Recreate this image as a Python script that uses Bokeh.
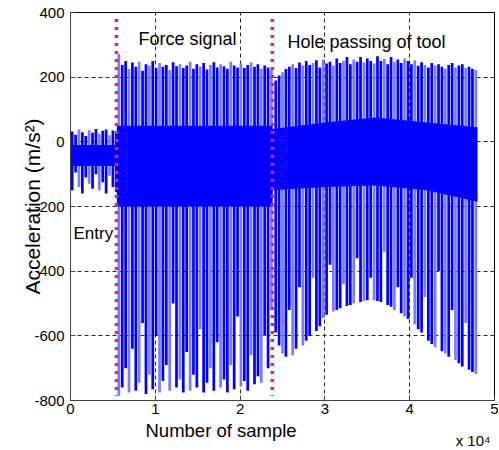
import numpy as np
from bokeh.plotting import figure
from bokeh.models import Label, FixedTicker, ColumnDataSource, Title
from bokeh.embed import file_html
from bokeh.resources import INLINE

# ---------------- data ----------------
x_ticks = [0, 10000, 20000, 30000, 40000, 50000]
x_tick_labels = ["0", "1", "2", "3", "4", "5"]
y_ticks = [-800, -600, -400, -200, 0, 200, 400]
y_tick_labels = ["-800", "-600", "-400", "-200", "0", "200", "400"]

# marker lines (sample index)
marker_x = [5420, 23800]

# spike positions (sample index) for the three phases
entry_x = list(range(200, 5401, 400))
force_x = list(range(5700, 23701, 400))
hole_x = list(range(24200, 47801, 400))

entry_hi = [32, 22, 38, 30, 18, 36, 28, 40, 25, 34, 38, 20, 35, 30]
entry_lo = [-150, -95, -140, -160, -110, -130, -145, -100, -150, -125, -160, -105, -140, -155]

force_hi = [272, 238, 250, 226, 245, 232, 248, 220, 240, 236, 250, 228, 244, 232, 238, 222,
            246, 234, 240, 228, 236, 248, 226, 240, 232, 244, 224, 238, 246, 230, 240, 234,
            226, 248, 236, 230, 242, 228, 238, 246, 232, 240, 226, 236, 230, 222]
force_lo = [-785, -760, -700, -775, -640, -770, -745, -560, -780, -720, -765, -600, -775, -740,
            -690, -770, -500, -760, -735, -775, -650, -770, -720, -760, -580, -775, -745, -700,
            -770, -620, -760, -735, -775, -690, -765, -540, -755, -740, -770, -660, -750, -725,
            -745, -600, -700, -520]

hole_hi = [190, 205, 215, 225, 232, 240, 228, 245, 236, 250, 238, 244, 252, 230, 255, 242,
           248, 236, 258, 244, 250, 262, 240, 255, 248, 262, 245, 258, 250, 242, 265, 250,
           256, 240, 262, 248, 255, 244, 258, 250, 240, 252, 235, 246, 238, 230, 244, 236,
           240, 232, 226, 238, 244, 230, 236, 240, 228, 232, 226, 222]
hole_lo = [-590, -630, -655, -665, -520, -660, -640, -450, -630, -615, -600, -420, -585, -570,
           -545, -535, -380, -525, -520, -515, -440, -508, -505, -500, -360, -495, -492, -490,
           -420, -490, -492, -495, -340, -505, -510, -520, -450, -530, -540, -548, -420, -565,
           -580, -590, -480, -615, -625, -635, -400, -648, -655, -665, -520, -675, -685, -695,
           -560, -705, -712, -718]

# dense core of the signal
core_x = [0, 5420, 5470, 23800, 23850, 30000, 36000, 42000, 48000]
core_hi = [-10, -10, 50, 50, 40, 60, 75, 60, 45]
core_lo = [-75, -75, -200, -200, -150, -140, -135, -150, -185]

# ---------------- figure ----------------
FONT = "Liberation Sans"
p = figure(width=498, height=448, x_range=(0, 50000), y_range=(-800, 400),
           output_backend="svg", toolbar_location=None,
           min_border_left=70, min_border_right=4, min_border_top=12, min_border_bottom=48)
p.background_fill_color = "white"
p.border_fill_color = "white"
p.outline_line_color = "black"
p.outline_line_width = 1

p.xaxis.ticker = FixedTicker(ticks=x_ticks)
p.xaxis.major_label_overrides = dict(zip(x_ticks, x_tick_labels))
p.yaxis.ticker = FixedTicker(ticks=y_ticks)
p.yaxis.major_label_overrides = dict(zip(y_ticks, y_tick_labels))
for ax in (p.xaxis, p.yaxis):
    ax.major_label_text_font = FONT
    ax.major_label_text_font_size = "15px"
    ax.major_label_text_color = "black"
    ax.major_tick_in = 5
    ax.major_tick_out = 0
    ax.minor_tick_line_color = None
    ax.axis_line_color = "#404040"
    ax.major_tick_line_color = "#404040"
    ax.axis_label_text_font = FONT
    ax.axis_label_text_font_style = "normal"
    ax.axis_label_text_color = "black"
p.xaxis.major_label_standoff = 3
p.yaxis.major_label_standoff = 6

p.yaxis.axis_label = "Acceleration (m/s²)"
p.yaxis.axis_label_text_font_size = "21px"
p.yaxis.axis_label_standoff = -13

p.xgrid.ticker = FixedTicker(ticks=x_ticks)
p.ygrid.ticker = FixedTicker(ticks=y_ticks)
for g in (p.xgrid, p.ygrid):
    g.grid_line_color = "black"
    g.grid_line_dash = "4 3"
    g.grid_line_alpha = 0.85
    g.grid_line_width = 1

# spikes
all_x = entry_x + force_x + hole_x
all_hi = entry_hi + force_hi + hole_hi
all_lo = entry_lo + force_lo + hole_lo
colors = ["#7a7aff" if i % 3 == 2 else "#0000ff" for i in range(len(all_x))]
src = ColumnDataSource(dict(x=all_x, top=all_hi, bottom=all_lo, c=colors))
p.vbar(x="x", top="top", bottom="bottom", width=320, fill_color="c", line_color=None, source=src)

# core
p.varea(x=core_x, y1=core_lo, y2=core_hi, fill_color="#0000ff")

# marker lines
p.segment(x0=marker_x, y0=[380, 380], x1=marker_x, y1=[-785, -785],
          line_color="#ff1080", line_width=3.5, line_dash="3 5")

# in-plot annotations
def lab(x, y, text, size, **kw):
    p.add_layout(Label(x=x, y=y, text=text, text_font=FONT, text_font_size=size,
                       text_color="black", **kw))

lab(8020, 319, "Force signal", "18px", text_baseline="middle")
lab(25580, 309, "Hole passing of tool", "18px", text_baseline="middle")
lab(354, -285, "Entry", "17px", text_baseline="middle")

# texts below the axis
t1 = Title(text="Number of sample", align="left", offset=75, text_font=FONT,
           text_font_size="18.5px", text_font_style="normal", text_color="black", standoff=3)
p.add_layout(t1, "below")
t2 = Title(text="x 10⁴", align="right", offset=4, vertical_align="top", text_font=FONT,
           text_font_size="15px", text_font_style="normal", text_color="black", standoff=-22)
p.add_layout(t2, "below")

open("out.html", "w").write(file_html(p, INLINE))
